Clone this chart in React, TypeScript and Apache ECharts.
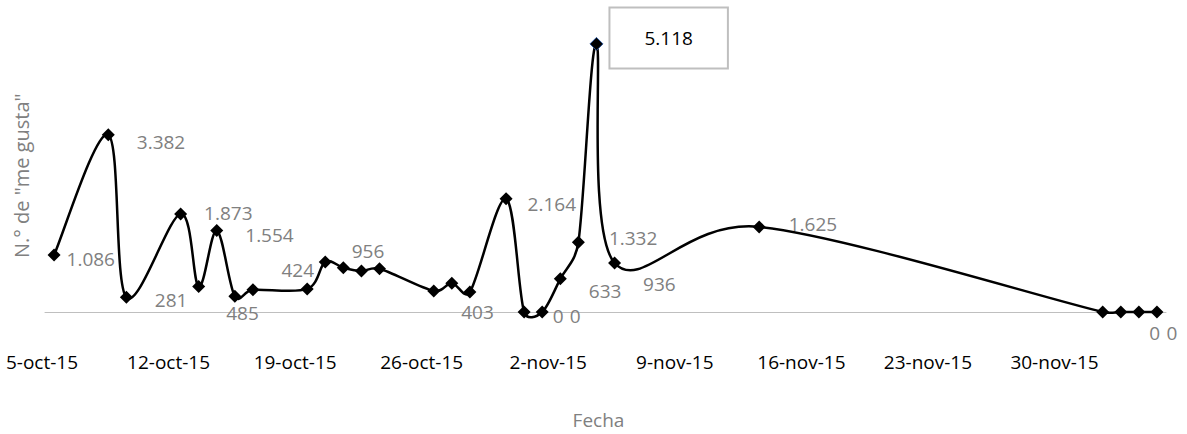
import { useEffect, useRef } from 'react';
import * as echarts from 'echarts';

// Fecha de cada publicación (2015) y N.º de "me gusta"
const dates = [
  '2015-10-05', '2015-10-08', '2015-10-09', '2015-10-12', '2015-10-13', '2015-10-14', '2015-10-15',
  '2015-10-16', '2015-10-19', '2015-10-20', '2015-10-21', '2015-10-22', '2015-10-23', '2015-10-26',
  '2015-10-27', '2015-10-28', '2015-10-30', '2015-10-31', '2015-11-01', '2015-11-02', '2015-11-03',
  '2015-11-04', '2015-11-05', '2015-11-13', '2015-12-02', '2015-12-03', '2015-12-04', '2015-12-05',
];
const likes = [
  1086, 3382, 281, 1873, 485, 1554, 300,
  424, 440, 956, 845, 783, 826, 403,
  550, 380, 2164, 0, 0, 633, 1332,
  5118, 936, 1625, 0, 0, 0, 0,
];
const tickLabels = [
  '5-oct-15', '12-oct-15', '19-oct-15', '26-oct-15', '2-nov-15',
  '9-nov-15', '16-nov-15', '23-nov-15', '30-nov-15',
];
const axisStartDate = '2015-10-05';
const axisEndDate = '2015-12-06';
const peakIndex = 21;

// label placement (style only): index -> [dx, dy]
const labelOffsets: Record<number, [number, number]> = {
  0: [6, 4], 1: [22, 7], 2: [22, 3], 3: [17, -1], 4: [21, 26], 5: [22, 4],
  7: [22, -20], 9: [20, -11], 13: [21, 21], 16: [15, 5], 17: [22, 4], 18: [21, 4],
  19: [22, 12], 20: [24, -4], 21: [7, -6], 22: [22, 21], 23: [23, -3], 25: [22, 21], 26: [21, 21],
};

const DAY = 86400000;
const dayIndex = (d: string) => (Date.parse(d) - Date.parse(axisStartDate)) / DAY;
const fmt = (v: number) => String(v).replace(/\B(?=(\d{3})+(?!\d))/g, '.');

const FONT = '"Open Sans", "Noto Sans", sans-serif';
const GREY = '#808080';

// each date sits in the middle of its day slot (date axis, between tick marks)
const points = likes.map((v, i) => [dayIndex(dates[i]) + 0.5, v]);

export default function App() {
  const ref = useRef<HTMLDivElement>(null);
  useEffect(() => {
    if (!ref.current) return;
    const chart = echarts.init(ref.current, undefined, { renderer: 'svg' });
    const n = points.length;
    const scatterData = points.map((pt, i) => {
      const off = labelOffsets[i];
      const item: any = { value: pt };
      if (off) {
        item.label = { show: true, offset: off };
        if (i === peakIndex) {
          item.label = {
            show: true,
            offset: off,
            color: '#000',
            borderColor: '#bfbfbf',
            borderWidth: 2,
            backgroundColor: '#fff',
            padding: [20, 34],
          };
          item.itemStyle = { borderColor: '#2e5597', borderWidth: 1 };
        }
      } else {
        item.label = { show: false };
      }
      return item;
    });

    // Excel-style smoothed line segment between point i and i+1
    const renderSegment = (params: any, api: any) => {
      const i = params.dataIndex;
      if (i >= n - 1) return { type: 'group', children: [] };
      const c = (k: number) => api.coord(points[Math.max(0, Math.min(n - 1, k))]);
      const p0 = c(i - 1), p1 = c(i), p2 = c(i + 1), p3 = c(i + 2);
      const dist = (a: number[], b: number[]) => Math.hypot(a[0] - b[0], a[1] - b[1]);
      const d12 = dist(p1, p2);
      const d02 = dist(p0, p2);
      const d13 = dist(p1, p3);
      const f0 = d02 > 0 ? Math.min(1 / 6, d12 / (2 * d02)) : 0;
      const f1 = d13 > 0 ? Math.min(1 / 6, d12 / (2 * d13)) : 0;
      return {
        type: 'bezierCurve',
        shape: {
          x1: p1[0], y1: p1[1], x2: p2[0], y2: p2[1],
          cpx1: p1[0] + (p2[0] - p0[0]) * f0,
          cpy1: p1[1] + (p2[1] - p0[1]) * f0,
          cpx2: p2[0] - (p3[0] - p1[0]) * f1,
          cpy2: p2[1] - (p3[1] - p1[1]) * f1,
        },
        style: { stroke: '#000', lineWidth: 2.5, fill: 'none' },
      };
    };

    chart.setOption({
      animation: false,
      textStyle: { fontFamily: FONT },
      grid: { left: 45, right: 21, top: 39.6, bottom: 117.3 },
      xAxis: {
        type: 'value',
        min: 0,
        max: dayIndex(axisEndDate),
        interval: 7,
        name: 'Fecha',
        nameLocation: 'middle',
        nameGap: 98,
        nameTextStyle: { color: GREY, fontSize: 19, fontFamily: FONT, padding: [0, 14, 0, 0] },
        axisLine: { show: true, lineStyle: { color: '#bfbfbf', width: 1 } },
        axisTick: { show: false },
        splitLine: { show: false },
        axisLabel: {
          color: '#000',
          fontSize: 19,
          fontFamily: FONT,
          margin: 40,
          padding: [0, 6, 0, 0],
          showMaxLabel: false,
          formatter: (v: number) => (v % 7 === 0 ? tickLabels[v / 7] ?? '' : ''),
        },
      },
      yAxis: {
        type: 'value',
        min: 0,
        max: 5200,
        name: 'N.° de "me gusta"',
        nameLocation: 'middle',
        nameGap: 14,
        nameTextStyle: { color: GREY, fontSize: 20, fontFamily: FONT },
        axisLine: { show: false },
        axisTick: { show: false },
        axisLabel: { show: false },
        splitLine: { show: false },
      },
      series: [
        {
          type: 'custom',
          data: points,
          encode: { x: 0, y: 1 },
          renderItem: renderSegment,
          clip: false,
          z: 2,
          silent: true,
        },
        {
          type: 'scatter',
          data: scatterData,
          symbol: 'diamond',
          symbolSize: 13,
          z: 3,
          itemStyle: { color: '#000', opacity: 1 },
          label: {
            show: false,
            position: 'right',
            distance: 0,
            color: GREY,
            fontSize: 19,
            fontFamily: FONT,
            formatter: (p: any) => fmt(p.value[1]),
          },
        },
      ],
    });
    return () => chart.dispose();
  }, []);
  return <div ref={ref} style={{ position: 'absolute', left: 0, top: 0, width: 1187, height: 434 }} />;
}
